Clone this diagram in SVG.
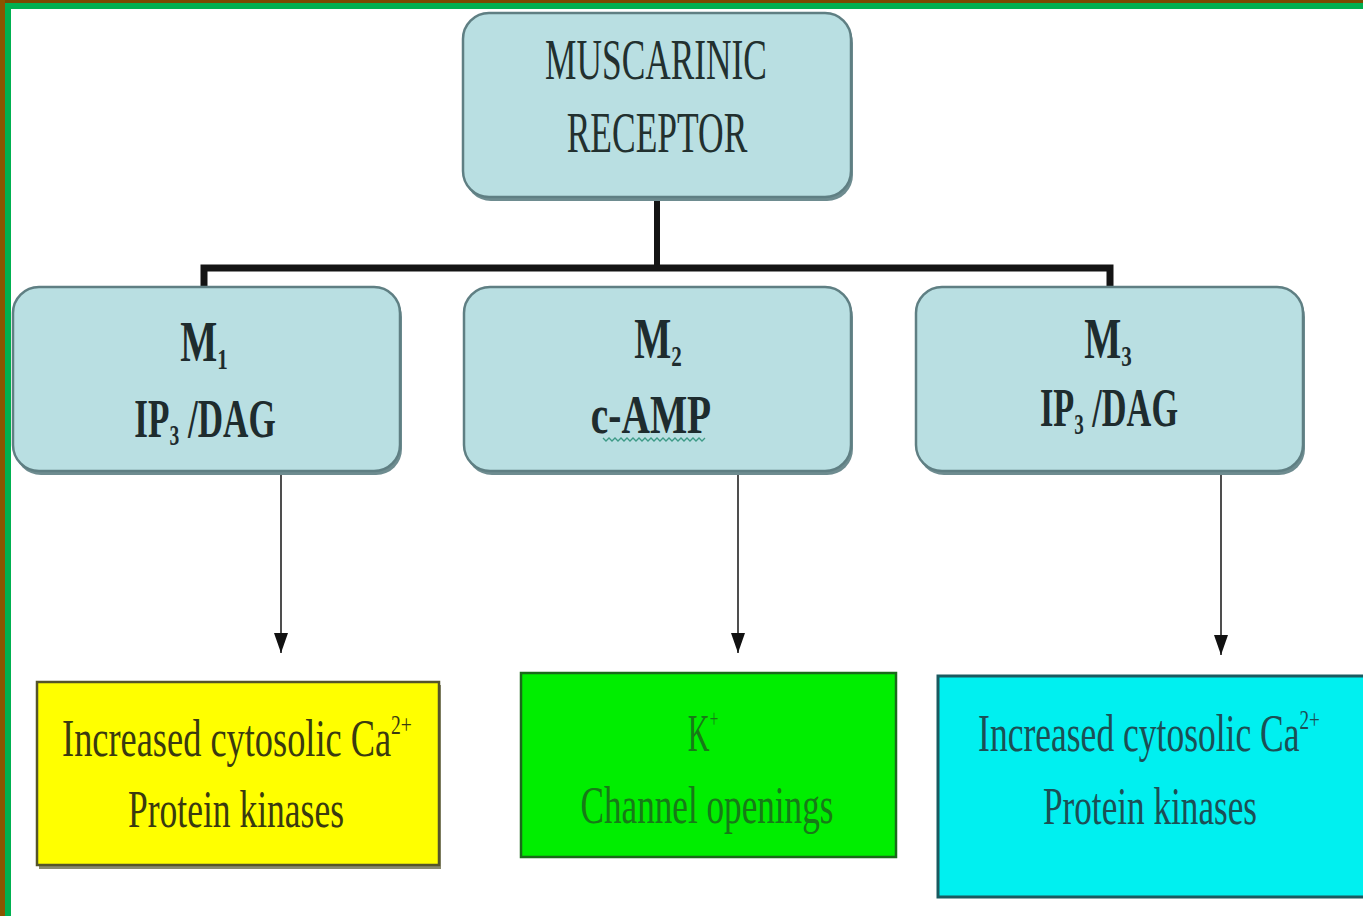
<svg xmlns="http://www.w3.org/2000/svg" width="1363" height="916" viewBox="0 0 1363 916">
<defs>
<style>
.rbox{fill:#b9dfe2;stroke:#5f7f83;stroke-width:2.5}
.shadow{fill:#6e8c90}
.t{font-family:"Liberation Serif","Times New Roman",serif;text-anchor:middle}
.tb{fill:#1e2c2e;font-weight:bold}
.tm{fill:#22302f}
.conn{stroke:#141414;fill:none}
.arr{stroke:#222;stroke-width:1.6;fill:none}
</style>
<marker id="ah2" viewBox="0 0 14 20" refX="7" refY="20" markerWidth="14" markerHeight="20" markerUnits="userSpaceOnUse" orient="0">
<path d="M0,0 L14,0 L7,20 Z" fill="#111"/>
</marker>
</defs>
<rect x="0" y="0" width="1363" height="916" fill="#ffffff"/>
<!-- frame -->
<rect x="0" y="0" width="1363" height="9" fill="#00b050"/>
<rect x="0" y="0" width="11" height="916" fill="#00b050"/>
<rect x="0" y="0" width="1363" height="3" fill="#7a4a00"/>
<rect x="0" y="0" width="5" height="916" fill="#8a5500"/>

<g id="connectors">
<path class="conn" d="M657,198 V268" stroke-width="6"/>
<path class="conn" d="M204,288 V268 H1110 V288" stroke-width="7"/>
<path class="arr" d="M281,472 V653" marker-end="url(#ah2)"/>
<path class="arr" d="M738,472 V653" marker-end="url(#ah2)"/>
<path class="arr" d="M1221,472 V655" marker-end="url(#ah2)"/>
</g>

<g id="node-muscarinic">
<rect class="shadow" x="465" y="17" width="388" height="184" rx="26"/>
<rect class="rbox" x="463" y="13" width="388" height="184" rx="26"/>
<text class="t tm" font-size="56" transform="translate(656,79) scale(0.631,1)">MUSCARINIC</text>
<text class="t tm" font-size="56" transform="translate(657,152) scale(0.633,1)">RECEPTOR</text>
</g>

<g id="node-m1">
<rect class="shadow" x="15" y="291" width="387" height="184" rx="26"/>
<rect class="rbox" x="13" y="287" width="387" height="184" rx="26"/>
<text class="t tb" font-size="56" transform="translate(204,361) scale(0.70,1)">M<tspan font-size="30" dy="8">1</tspan></text>
<text class="t tb" font-size="54" transform="translate(205,437) scale(0.65,1)">IP<tspan font-size="30" dy="8">3</tspan><tspan dy="-8"> /DAG</tspan></text>
</g>

<g id="node-m2">
<rect class="shadow" x="466" y="291" width="387" height="184" rx="26"/>
<rect class="rbox" x="464" y="287" width="387" height="184" rx="26"/>
<text class="t tb" font-size="56" transform="translate(658,358) scale(0.70,1)">M<tspan font-size="30" dy="8">2</tspan></text>
<text class="t tb" font-size="54" transform="translate(651,433) scale(0.73,1)">c-AMP</text>
<path d="M603,438 l3,3 l3,-3 l3,3 l3,-3 l3,3 l3,-3 l3,3 l3,-3 l3,3 l3,-3 l3,3 l3,-3 l3,3 l3,-3 l3,3 l3,-3 l3,3 l3,-3 l3,3 l3,-3 l3,3 l3,-3 l3,3 l3,-3 l3,3 l3,-3 l3,3 l3,-3 l3,3 l3,-3 l3,3 l3,-3 l3,3 l3,-3" fill="none" stroke="#3d9a86" stroke-width="1.3"/>
</g>

<g id="node-m3">
<rect class="shadow" x="918" y="291" width="387" height="184" rx="26"/>
<rect class="rbox" x="916" y="287" width="387" height="184" rx="26"/>
<text class="t tb" font-size="56" transform="translate(1108,358) scale(0.70,1)">M<tspan font-size="30" dy="8">3</tspan></text>
<text class="t tb" font-size="54" transform="translate(1109,426) scale(0.635,1)">IP<tspan font-size="30" dy="8">3</tspan><tspan dy="-8"> /DAG</tspan></text>
</g>

<g id="node-yellow">
<rect x="39" y="685" width="402" height="184" fill="#8a8a70"/>
<rect x="37" y="682" width="402" height="183" fill="#ffff00" stroke="#55552a" stroke-width="2.5"/>
<text class="t" font-size="52" fill="#3a3a10" transform="translate(237,756) scale(0.699,1)">Increased cytosolic Ca<tspan font-size="28" dy="-22">2+</tspan></text>
<text class="t" font-size="52" fill="#3a3a10" transform="translate(236,827) scale(0.683,1)">Protein kinases</text>
</g>

<g id="node-green">
<rect x="521" y="673" width="375" height="184" fill="#00ee00" stroke="#1a6a1a" stroke-width="2.5"/>
<text class="t" font-size="52" fill="#177a17" transform="translate(703,751) scale(0.58,1)">K<tspan font-size="26" dy="-24">+</tspan></text>
<text class="t" font-size="52" fill="#177a17" transform="translate(707,823) scale(0.676,1)">Channel openings</text>
</g>

<g id="node-cyan">
<rect x="938" y="676" width="440" height="221" fill="#00f0f0" stroke="#1a5a60" stroke-width="3"/>
<text class="t" font-size="52" fill="#1c4f55" transform="translate(1149,751) scale(0.683,1)">Increased cytosolic Ca<tspan font-size="28" dy="-22">2+</tspan></text>
<text class="t" font-size="52" fill="#1c4f55" transform="translate(1150,824) scale(0.677,1)">Protein kinases</text>
</g>
</svg>
